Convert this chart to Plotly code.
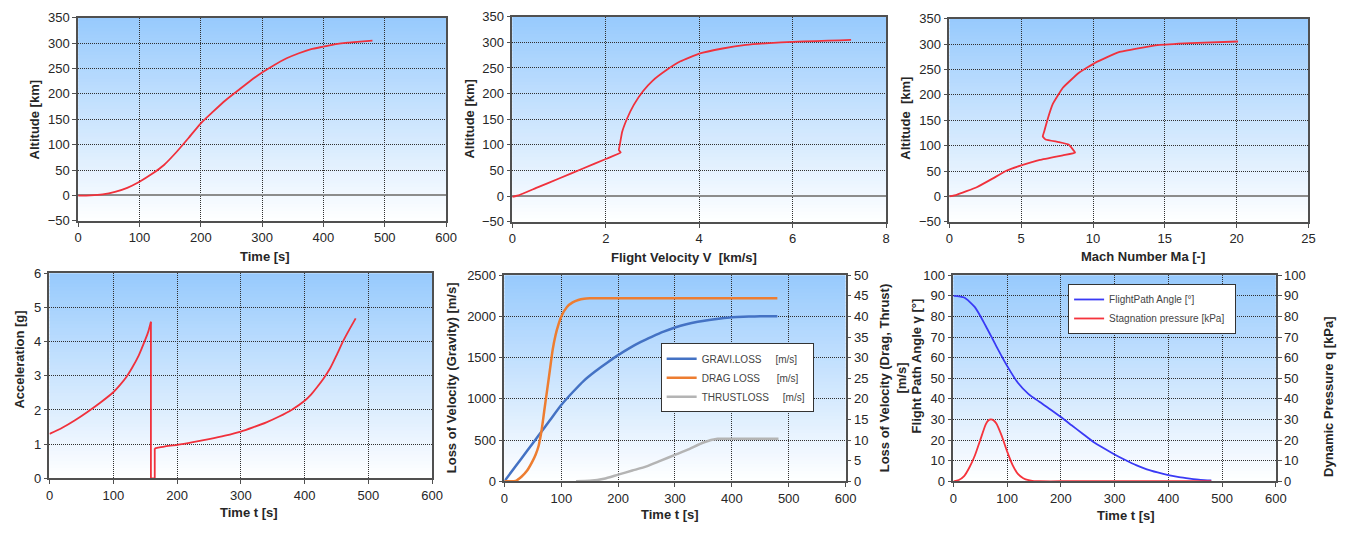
import plotly.graph_objects as go

W, H = 1356, 533

# ---------------- data ----------------
# Altitude vs time
alt_t = [0, 20, 40, 60, 80, 100, 120, 140, 160, 180, 200, 220, 240, 260, 280, 300,
         320, 340, 360, 380, 400, 420, 440, 460, 480]
alt_km = [-0.5, 0, 2, 7, 15, 27, 42, 60, 85, 113, 142, 165, 187, 206, 225, 242,
          257, 270, 280, 288, 293, 298, 301, 303, 305]

# Altitude vs flight velocity
vel_kms = [0, 0.15, 0.5, 1.0, 1.5, 2.0, 2.32, 2.28, 2.30, 2.35, 2.45, 2.6, 2.8, 3.0,
           3.3, 3.6, 4.0, 4.5, 5.0, 5.5, 6.0, 6.5, 7.0, 7.25]
vel_alt = [-1.5, 2, 15.5, 34.5, 53.5, 72.5, 85, 90, 100, 125, 150, 178, 205, 225,
           246, 263, 278, 288, 295, 298.5, 301, 302.5, 304, 305]

# Altitude vs Mach number
mach = [0, 0.5, 1.9, 3.0, 4.0, 5.0, 6.3, 7.9, 8.75, 8.3, 7.6, 6.7, 6.5, 6.6, 6.85,
        7.2, 7.9, 9.0, 10.2, 11.8, 14.5, 16.8, 20.1]
mach_alt = [0, 3, 18, 35, 51, 61, 72, 81, 86, 102, 107, 112, 118, 128, 153,
            182, 214, 243, 264, 284, 298, 302, 305]

# Acceleration vs time: first stage burn, then second stage burn
acc1_t = [0, 20, 40, 60, 80, 100, 110, 120, 130, 140, 150, 155, 159]
acc1_g = [1.30, 1.48, 1.70, 1.95, 2.22, 2.52, 2.72, 2.95, 3.25, 3.60, 4.05, 4.30, 4.58]
acc2_t = [165, 180, 200, 225, 250, 275, 300, 320, 340, 360, 380, 400, 410, 420, 430,
          440, 450, 460, 470, 480]
acc2_g = [0.88, 0.93, 0.98, 1.06, 1.15, 1.25, 1.37, 1.50, 1.64, 1.81, 2.01, 2.27, 2.45,
          2.68, 2.93, 3.22, 3.60, 4.00, 4.35, 4.68]

# Velocity losses
grav_t = [0, 20, 40, 60, 80, 100, 120, 140, 160, 180, 200, 220, 240, 260, 280, 300,
          320, 340, 360, 380, 400, 420, 440, 460, 480]
grav_loss = [0, 185, 370, 555, 740, 925, 1080, 1222, 1335, 1435, 1530, 1615, 1690, 1755,
             1815, 1865, 1905, 1935, 1958, 1976, 1990, 1997, 2000, 2002, 2003]
drag_t = [0, 10, 20, 30, 40, 50, 55, 60, 65, 70, 75, 80, 85, 90, 95, 100, 110, 120,
          130, 140, 150, 200, 300, 400, 480]
drag_loss = [0, 0, 0.1, 1.1, 2.6, 5, 6.5, 8.5, 12, 17, 22, 27, 32, 35.5, 38, 40, 42.3,
             43.4, 44, 44.3, 44.4, 44.4, 44.4, 44.4, 44.4]
thrust_t = [126, 150, 175, 200, 225, 250, 275, 300, 325, 350, 375, 400, 450, 482]
thrust_loss = [0, 0.1, 0.6, 1.6, 2.6, 3.6, 5.0, 6.4, 7.8, 9.4, 10.3, 10.3, 10.3, 10.3]

# Flight path angle and stagnation pressure
fpa_t = [0, 20, 40, 60, 80, 100, 120, 140, 160, 180, 200, 220, 240, 260, 280, 300,
         320, 340, 360, 380, 400, 420, 440, 460, 480]
fpa_deg = [90, 89.2, 84.5, 75.5, 65.5, 56, 47.8, 42.3, 38.6, 35, 31.2, 27.2, 23.2, 19.2,
           16, 13, 10.3, 7.8, 5.8, 4.3, 3.0, 2.0, 1.3, 0.7, 0.4]
q_t = [0, 10, 20, 30, 40, 50, 60, 65, 70, 75, 80, 90, 100, 110, 120, 130, 140, 150,
       160, 200, 300, 400, 480]
q_kpa = [0, 0.6, 2.5, 6.8, 12.5, 20, 27.5, 29.5, 30, 29.5, 28, 22, 14.5, 8, 3.6, 1.5,
         0.5, 0.1, 0, 0, 0, 0, 0]

# ---------------- layout helpers ----------------
def fx(px):
    return px / W


def fy(py):
    return 1 - py / H


# subplot boxes in pixels: left, right, top, bottom
boxes = {
    1: (75, 447, 11, 220),
    2: (514, 892, 10, 221),
    3: (956, 1319, 12, 221),
    4: (46, 433, 274, 485),
    5: (506, 851, 276, 488),
    6: (960, 1286, 276, 488),
}

FONT = "Liberation Sans, Arial, sans-serif"
TXT = "#262626"
RED = "#f0313c"

fig = go.Figure()

smooth = dict(shape="spline", smoothing=0.6)

fig.add_trace(go.Scatter(x=alt_t, y=alt_km, mode="lines", xaxis="x", yaxis="y",
                         line=dict(color=RED, width=1.8, **smooth), showlegend=False))
fig.add_trace(go.Scatter(x=vel_kms, y=vel_alt, mode="lines", xaxis="x2", yaxis="y2",
                         line=dict(color=RED, width=1.8, shape="spline", smoothing=0.3),
                         showlegend=False))
fig.add_trace(go.Scatter(x=mach, y=mach_alt, mode="lines", xaxis="x3", yaxis="y3",
                         line=dict(color=RED, width=1.8, shape="spline", smoothing=0.3),
                         showlegend=False))

# acceleration: two burns joined by the cut-off / ignition step
fig.add_trace(go.Scatter(x=acc1_t, y=acc1_g, mode="lines", xaxis="x4", yaxis="y4",
                         line=dict(color=RED, width=1.8, **smooth), showlegend=False))
fig.add_trace(go.Scatter(x=[acc1_t[-1], acc1_t[-1], acc2_t[0], acc2_t[0]],
                         y=[acc1_g[-1], 0, 0, acc2_g[0]], mode="lines",
                         xaxis="x4", yaxis="y4",
                         line=dict(color=RED, width=1.8), showlegend=False))
fig.add_trace(go.Scatter(x=acc2_t, y=acc2_g, mode="lines", xaxis="x4", yaxis="y4",
                         line=dict(color=RED, width=1.8, **smooth), showlegend=False))

nb = "\u00a0"
fig.add_trace(go.Scatter(x=grav_t, y=grav_loss, mode="lines", xaxis="x5", yaxis="y5",
                         name="GRAVI.LOSS" + nb * 5 + "[m/s]" + nb, legend="legend",
                         line=dict(color="#4472c4", width=2.5, **smooth)))
fig.add_trace(go.Scatter(x=drag_t, y=drag_loss, mode="lines", xaxis="x5", yaxis="y7",
                         name="DRAG LOSS" + nb * 6 + "[m/s]" + nb, legend="legend",
                         line=dict(color="#ed7d31", width=2.5, **smooth)))
fig.add_trace(go.Scatter(x=thrust_t, y=thrust_loss, mode="lines", xaxis="x5", yaxis="y7",
                         name="THRUSTLOSS" + nb * 5 + "[m/s]" + nb, legend="legend",
                         line=dict(color="#b4b4b4", width=2.5, **smooth)))

fig.add_trace(go.Scatter(x=fpa_t, y=fpa_deg, mode="lines", xaxis="x6", yaxis="y6",
                         name="FlightPath Angle [°]", legend="legend2",
                         line=dict(color="#3a3af5", width=1.8, **smooth)))
fig.add_trace(go.Scatter(x=q_t, y=q_kpa, mode="lines", xaxis="x6", yaxis="y8",
                         name="Stagnation pressure [kPa]" + nb * 2, legend="legend2",
                         line=dict(color="#f5333c", width=1.8, **smooth)))


def axis_style(**kw):
    d = dict(
        showline=True, linecolor="#505050", linewidth=1.5, mirror=True,
        ticks="outside", ticklen=4, tickcolor="#505050",
        showgrid=True, gridcolor="#303030", griddash="1px,1px", gridwidth=1,
        tickfont=dict(family=FONT, size=13, color=TXT),
        zeroline=False,
    )
    d.update(kw)
    return d


ranges = {
    1: ((0, 600), 100, (-50, 350), 50),
    2: ((0, 8), 2, (-50, 350), 50),
    3: ((0, 25), 5, (-50, 350), 50),
    4: ((0, 600), 100, (0, 6), 1),
    5: ((0, 600), 100, (0, 2500), 500),
    6: ((0, 600), 100, (0, 100), 10),
}

layout_axes = {}
for i, (l, r, t, b) in boxes.items():
    xr, xd, yr, yd = ranges[i]
    sx = "" if i == 1 else str(i)
    zl = i <= 3
    layout_axes["xaxis" + sx] = axis_style(
        domain=[fx(l), fx(r)], range=list(xr), dtick=xd, tick0=0,
        anchor="y" + sx)
    layout_axes["yaxis" + sx] = axis_style(
        domain=[fy(b), fy(t)], range=list(yr), dtick=yd, tick0=0,
        anchor="x" + sx, zeroline=zl, zerolinecolor="#8c8c8c", zerolinewidth=1.5)

# secondary (right-hand) axes
layout_axes["yaxis7"] = axis_style(
    overlaying="y5", side="right", anchor="x5", range=[0, 50], dtick=5,
    showgrid=False, mirror=False)
layout_axes["yaxis8"] = axis_style(
    overlaying="y6", side="right", anchor="x6", range=[0, 100], dtick=10,
    showgrid=False, mirror=False)

# vertical light-blue to white gradient behind each plot area
shapes = []
top = (151, 202, 253)
n = 60
for i in boxes:
    sx = "" if i == 1 else str(i)
    for k in range(n):
        f = (k + 0.5) / n
        c = tuple(round(255 * (1 - f) + top[j] * f) for j in range(3))
        shapes.append(dict(
            type="rect", xref="x" + sx + " domain", yref="y" + sx + " domain",
            x0=0, x1=1, y0=k / n, y1=min(1, (k + 1) / n + 0.004),
            fillcolor="rgb(%d,%d,%d)" % c, line=dict(width=0), layer="below"))

# axis titles
titles = [
    ("Time [s]", 264, 257, 0),
    ("Flight Velocity V  [km/s]", 688, 258, 0),
    ("Mach Number Ma [-]", 1152, 257, 0),
    ("Time t [s]", 248, 520, 0),
    ("Time t [s]", 673, 522, 0),
    ("Time t [s]", 1135, 523, 0),
    ("Altitude [km]", 31, 116, -90),
    ("Altitude [km]", 471, 115, -90),
    ("Altitude  [km]", 912, 114, -90),
    ("Acceleration [g]", 16, 363, -90),
    ("Loss of Velocity (Gravity) [m/s]", 452, 382, -90),
    ("Loss of Velocity (Drag, Thrust)<br>[m/s]", 899, 382, -90),
    ("Flight Path Angle γ [°]", 923, 369, -90),
    ("Dynamic Pressure q [kPa]", 1340, 401, -90),
]
annotations = []
for text, px, py, ang in titles:
    annotations.append(dict(
        text="<b>" + text.replace("<br>", "</b><br><b>") + "</b>",
        x=fx(px), y=fy(py), xref="paper", yref="paper",
        xanchor="center", yanchor="middle", showarrow=False, textangle=ang,
        font=dict(family=FONT, size=13, color=TXT)))

legend_common = dict(
    bgcolor="white", bordercolor="#333333", borderwidth=1,
    font=dict(family=FONT, size=10, color="#444444"),
    xanchor="left", yanchor="top", itemwidth=30, tracegroupgap=0)

fig.update_layout(
    width=W, height=H, autosize=False,
    margin=dict(l=0, r=0, t=0, b=0),
    paper_bgcolor="white", plot_bgcolor="rgba(0,0,0,0)",
    shapes=shapes, annotations=annotations,
    legend=dict(x=fx(664), y=fy(346), **legend_common),
    legend2=dict(x=fx(1076), y=fy(285), **legend_common),
    **layout_axes,
)

fig.write_html("out.html")
